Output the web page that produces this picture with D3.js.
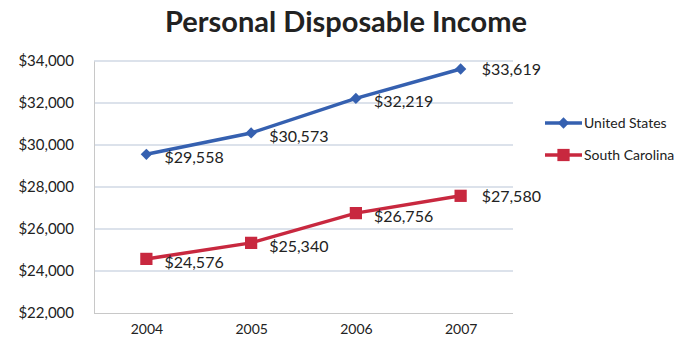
<!DOCTYPE html>
<html>
<head>
<meta charset="utf-8">
<script src="https://cdn.jsdelivr.net/npm/d3@7"></script>
<style>
body { margin: 0; background: #fff; }
text { font-family: Lato, "Open Sans", sans-serif; fill: #222; }
</style>
</head>
<body>
<script>
var years = ["2004", "2005", "2006", "2007"];
var usValues = [29558, 30573, 32219, 33619];
var scValues = [24576, 25340, 26756, 27580];
var seriesNames = ["United States", "South Carolina"];
var yTicks = [22000, 24000, 26000, 28000, 30000, 32000, 34000];

var width = 690, height = 354;
var plotLeft = 94, plotRight = 513, plotTop = 61, plotBottom = 313;

var svg = d3.select("body").append("svg")
    .attr("width", width)
    .attr("height", height);

var x = d3.scalePoint().domain(years).range([plotLeft, plotRight]).padding(0.5);
var y = d3.scaleLinear().domain([22000, 34000]).range([plotBottom, plotTop]);
var fmt = d3.format("$,");

svg.append("text")
    .attr("x", 346).attr("y", 32)
    .attr("text-anchor", "middle")
    .style("font-size", "29px")
    .style("font-weight", "bold")
    .text("Personal Disposable Income");

// gridlines
svg.append("g").selectAll("line")
    .data(yTicks.slice(1))
    .enter().append("line")
    .attr("x1", plotLeft).attr("x2", plotRight)
    .attr("y1", function(d) { return y(d); })
    .attr("y2", function(d) { return y(d); })
    .attr("stroke", "#b9c6d8")
    .attr("stroke-width", 1.2);

// y axis
var yAxis = d3.axisLeft(y).tickValues(yTicks).tickSize(0).tickPadding(20).tickFormat(fmt);
var gy = svg.append("g").attr("transform", "translate(" + plotLeft + ",0)").call(yAxis);
gy.select(".domain").attr("stroke", "#c8c8c8");
gy.selectAll("text").style("font-size", "15px").attr("fill", "#222");

// x axis
var xAxis = d3.axisBottom(x).tickSize(0).tickPadding(11);
var gx = svg.append("g").attr("transform", "translate(0," + plotBottom + ")").call(xAxis);
gx.select(".domain").attr("stroke", "#c8c8c8").attr("d", "M" + plotLeft + ",0.5H" + plotRight);
gx.selectAll("text").style("font-size", "14px").attr("fill", "#222");

// diamond = square turned 45 degrees
var series = [
    {name: seriesNames[0], values: usValues, color: "#3560b0", rot: 45, size: 64},
    {name: seriesNames[1], values: scValues, color: "#c8283f", rot: 0, size: 150}
];

var line = d3.line()
    .x(function(d, i) { return x(years[i]); })
    .y(function(d) { return y(d); });

series.forEach(function(s) {
    svg.append("path")
        .attr("d", line(s.values))
        .attr("fill", "none")
        .attr("stroke", s.color)
        .attr("stroke-width", 3.5);

    svg.append("g").selectAll("path")
        .data(s.values)
        .enter().append("path")
        .attr("transform", function(d, i) { return "translate(" + x(years[i]) + "," + y(d) + ") rotate(" + s.rot + ")"; })
        .attr("d", d3.symbol().type(d3.symbolSquare).size(s.size))
        .attr("fill", s.color);

    svg.append("g").selectAll("text")
        .data(s.values)
        .enter().append("text")
        .attr("x", function(d, i) { return x(years[i]) + (i == 3 ? 21 : 18); })
        .attr("y", function(d, i) { return y(d) + (i == 3 ? 6 : 9); })
        .style("font-size", "16px")
        .text(function(d) { return fmt(d); });
});

// legend
var legend = svg.append("g").selectAll("g")
    .data(series)
    .enter().append("g")
    .attr("transform", function(d, i) { return "translate(545," + (123 + i * 32) + ")"; });

legend.append("line")
    .attr("x1", 0).attr("x2", 37)
    .attr("stroke", function(d) { return d.color; })
    .attr("stroke-width", 3.5);
legend.append("path")
    .attr("transform", function(d) { return "translate(18.5,0) rotate(" + d.rot + ")"; })
    .attr("d", function(d) { return d3.symbol().type(d3.symbolSquare).size(d.size)(); })
    .attr("fill", function(d) { return d.color; });
legend.append("text")
    .attr("x", 39).attr("y", 5)
    .style("font-size", "14px")
    .text(function(d) { return d.name; });
</script>
</body>
</html>
